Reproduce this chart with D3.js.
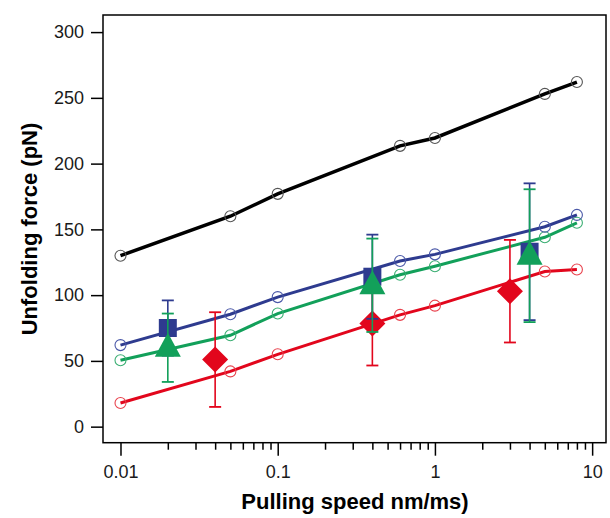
<!DOCTYPE html>
<html>
<head>
<meta charset="utf-8">
<script src="https://cdn.jsdelivr.net/npm/d3@7"></script>
<style>
  body { margin: 0; background: #fff; }
  svg { display: block; font-family: 'Liberation Sans', Arial, sans-serif; }
</style>
</head>
<body>
<svg id="chart" width="610" height="518"></svg>
<script>
// speed sweep (open circles + lines)
const speeds = [0.01, 0.05, 0.1, 0.6, 1, 5, 8]
const blackForce = [130, 160, 177, 213.5, 219.5, 253, 262]
const blueForce = [62, 85.5, 98.5, 126, 131, 152, 161]
const greenForce = [50.5, 69.5, 86, 115.5, 122, 144, 155]
const redForce = [18, 42, 55, 85, 92, 118, 119.5]

// experimental points with error bars
const redSpeed = [0.04, 0.4, 3]
const redMean = [51, 78.5, 103]
const redErr = [36, 32, 39]
const blueSpeed = [0.02, 0.4, 4]
const blueMean = [75, 114, 133]
const blueErr = [21, 32, 52]
const greenSpeed = [0.02, 0.4, 4]
const greenMean = [60, 107.5, 130]
const greenErr = [26, 35.5, 50.5]

const yTicks = [0, 50, 100, 150, 200, 250, 300]
const xTicks = [0.01, 0.1, 1, 10]

const colors = { black: '#000000', blue: '#2e3b8f', green: '#12a05a', red: '#e2061c' }
const circleColors = { black: '#555555', blue: '#4a58a8', green: '#3aae72', red: '#e8424d' }

const svg = d3.select('#chart')
const mLeft = 103, mRight = 606, mTop = 15, mBottom = 442.7

const xScale = d3.scaleLog().domain([0.00774, 12.25]).range([mLeft, mRight])
const yScale = d3.scaleLinear().domain([-12.2, 313]).range([mBottom, mTop])

// frame
svg.append('rect')
  .attr('x', mLeft).attr('y', mTop)
  .attr('width', mRight - mLeft).attr('height', mBottom - mTop)
  .attr('fill', 'none').attr('stroke', '#000').attr('stroke-width', 1.5)

// y axis
const yAxis = d3.axisLeft(yScale).tickValues(yTicks).tickSize(12).tickPadding(7)
const yg = svg.append('g').attr('transform', `translate(${mLeft},0)`).call(yAxis)
yg.select('.domain').remove()
yg.selectAll('line').attr('stroke-width', 1.5)
yg.selectAll('text').attr('font-size', 18).attr('fill', '#1a1a1a')

// x axis, minor then major ticks
const minor = []
for (let d = 0.01; d < 10; d *= 10) {
  for (let k = 2; k <= 9; k++) minor.push(d * k)
}
const xMinor = d3.axisBottom(xScale).tickValues(minor).tickSize(7).tickFormat('')
const xgm = svg.append('g').attr('transform', `translate(0,${mBottom})`).call(xMinor)
xgm.select('.domain').remove()
xgm.selectAll('line').attr('stroke-width', 1.5)

const xAxis = d3.axisBottom(xScale).tickValues(xTicks).tickSize(13).tickPadding(10)
  .tickFormat(d => d3.format('~g')(d))
const xg = svg.append('g').attr('transform', `translate(0,${mBottom})`).call(xAxis)
xg.select('.domain').remove()
xg.selectAll('line').attr('stroke-width', 1.5)
xg.selectAll('text').attr('font-size', 18).attr('fill', '#1a1a1a')

// axis titles
svg.append('text')
  .attr('x', 355).attr('y', 509)
  .attr('text-anchor', 'middle')
  .attr('font-size', 22).attr('font-weight', 'bold')
  .text('Pulling speed nm/ms)')

svg.append('text')
  .attr('transform', 'translate(37,229) rotate(-90)')
  .attr('text-anchor', 'middle')
  .attr('font-size', 22).attr('font-weight', 'bold')
  .text('Unfolding force (pN)')

// lines with open circles
const line = d3.line().x(d => xScale(d[0])).y(d => yScale(d[1]))
const series = [
  { key: 'red', values: redForce },
  { key: 'green', values: greenForce },
  { key: 'blue', values: blueForce },
  { key: 'black', values: blackForce }
]
series.forEach(s => {
  const pts = speeds.map((x, i) => [x, s.values[i]])
  svg.append('path')
    .datum(pts)
    .attr('d', line)
    .attr('fill', 'none')
    .attr('stroke', colors[s.key])
    .attr('stroke-width', s.key === 'black' ? 3.5 : 3)
  svg.selectAll(null)
    .data(pts)
    .join('circle')
    .attr('cx', d => xScale(d[0]))
    .attr('cy', d => yScale(d[1]))
    .attr('r', 5.5)
    .attr('fill', 'none')
    .attr('stroke', circleColors[s.key])
    .attr('stroke-width', 1.1)
})

// markers with error bars
function errorBars(xs, ms, es, color) {
  const g = svg.append('g')
  xs.forEach((x, i) => {
    const cx = xScale(x)
    const y1 = yScale(ms[i] + es[i]), y0 = yScale(ms[i] - es[i])
    g.append('line').attr('x1', cx).attr('x2', cx).attr('y1', y1).attr('y2', y0)
      .attr('stroke', color).attr('stroke-width', 1.6)
    ;[y1, y0].forEach(y => {
      g.append('line').attr('x1', cx - 6).attr('x2', cx + 6).attr('y1', y).attr('y2', y)
        .attr('stroke', color).attr('stroke-width', 1.8)
    })
  })
}

function markers(xs, ms, shape, color) {
  svg.append('g').selectAll('path')
    .data(xs.map((x, i) => [x, ms[i]]))
    .join('path')
    .attr('transform', d => `translate(${xScale(d[0])},${yScale(d[1])})`)
    .attr('d', shape)
    .attr('fill', color)
}

const diamond = 'M0,-13L13,0L0,13L-13,0Z'
const square = 'M-9,-9H9V9H-9Z'
const triangle = 'M0,-15L13,9L-13,9Z'

errorBars(redSpeed, redMean, redErr, colors.red)
markers(redSpeed, redMean, diamond, colors.red)
errorBars(blueSpeed, blueMean, blueErr, colors.blue)
markers(blueSpeed, blueMean, square, colors.blue)
errorBars(greenSpeed, greenMean, greenErr, colors.green)
markers(greenSpeed, greenMean, triangle, colors.green)
</script>
</body>
</html>
